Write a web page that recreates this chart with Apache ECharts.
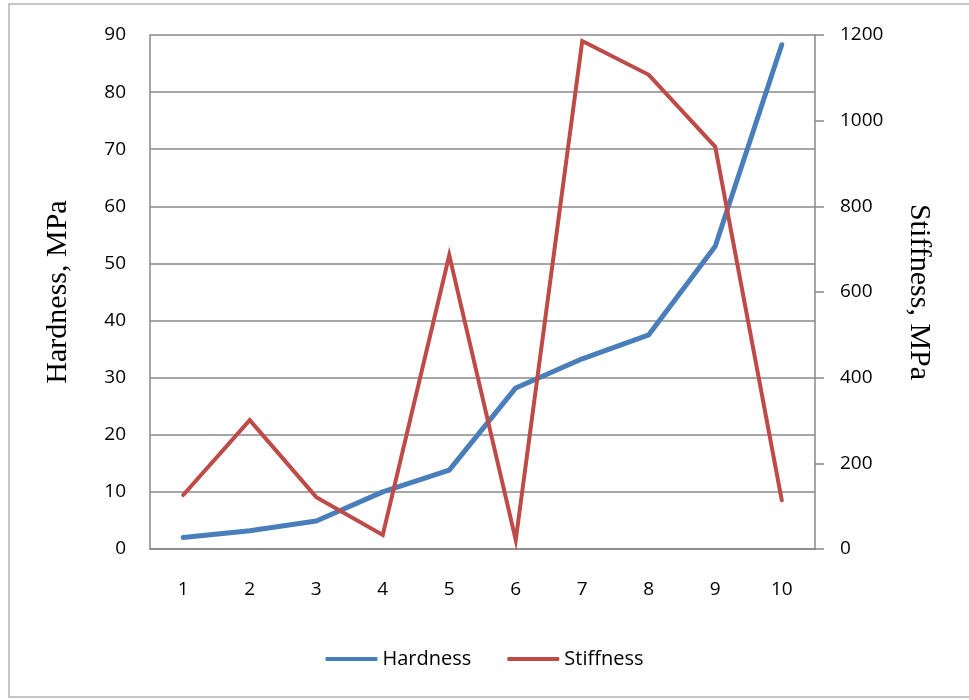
<!DOCTYPE html>
<html>
<head>
<meta charset="utf-8">
<script src="https://cdn.jsdelivr.net/npm/echarts@6/dist/echarts.min.js"></script>
<style>
  html, body { margin: 0; padding: 0; background: #fff; }
  #chart { width: 969px; height: 700px; }
</style>
</head>
<body>
<div id="chart"></div>
<script>
// samples 1..10
const categories = ['1', '2', '3', '4', '5', '6', '7', '8', '9', '10'];
const hardness = [2, 3.2, 4.9, 10, 13.8, 28.2, 33.3, 37.5, 53, 88.3];
const stiffness = [126, 301, 121, 33, 686, 21, 1186, 1107, 939, 114];

const GRID_COLOR = '#888888';
const LABEL_FONT = '"Open Sans", "Liberation Sans", sans-serif';
const NAME_FONT = '"Liberation Serif", "DejaVu Serif", serif';

const option = {
    animation: false,
    color: ['#4A7EBB', '#BE4B48'],
    graphic: [
        {
            type: 'rect',
            shape: {x: 9, y: 4, width: 990, height: 693},
            style: {fill: 'none', stroke: '#b4b4b4', lineWidth: 1.5},
            silent: true,
        }
    ],
    legend: {
        bottom: 26,
        left: 'center',
        itemWidth: 52,
        itemHeight: 4,
        itemGap: 36,
        icon: 'roundRect',
        textStyle: {
            color: '#000',
            fontSize: 20,
            fontFamily: LABEL_FONT,
        },
        data: ['Hardness', 'Stiffness'],
    },
    grid: {
        left: 150,
        right: 154,
        top: 35,
        bottom: 151,
        containLabel: false,
    },
    xAxis: {
        type: 'category',
        data: categories,
        boundaryGap: true,
        axisLine: {show: true, lineStyle: {color: GRID_COLOR, width: 1.5}},
        axisTick: {show: false},
        axisLabel: {
            color: '#000',
            fontSize: 19,
            fontFamily: LABEL_FONT,
            margin: 31,
        },
    },
    yAxis: [
        {
            type: 'value',
            min: 0,
            max: 90,
            interval: 10,
            name: 'Hardness, MPa',
            nameLocation: 'middle',
            nameRotate: 90,
            nameGap: 77,
            nameTextStyle: {color: '#000', fontSize: 30, fontFamily: NAME_FONT},
            axisLine: {show: true, lineStyle: {color: GRID_COLOR, width: 1.5}},
            axisTick: {show: false},
            splitLine: {show: true, lineStyle: {color: GRID_COLOR, width: 1.5}},
            axisLabel: {
                color: '#000',
                fontSize: 19,
                fontFamily: LABEL_FONT,
                margin: 24,
            },
        },
        {
            type: 'value',
            min: 0,
            max: 1200,
            interval: 200,
            position: 'right',
            name: 'Stiffness, MPa',
            nameLocation: 'middle',
            nameRotate: -90,
            nameGap: 89,
            nameTextStyle: {color: '#000', fontSize: 30, fontFamily: NAME_FONT},
            axisLine: {show: true, lineStyle: {color: GRID_COLOR, width: 1.5}},
            axisTick: {show: true, inside: false, length: 9, lineStyle: {color: GRID_COLOR, width: 1.5}},
            splitLine: {show: false},
            axisLabel: {
                color: '#000',
                fontSize: 19,
                fontFamily: LABEL_FONT,
                margin: 25,
                formatter: (v) => String(v),
            },
        }
    ],
    series: [
        {
            name: 'Hardness',
            type: 'line',
            yAxisIndex: 0,
            data: hardness,
            symbol: 'none',
            lineStyle: {width: 5, cap: 'round', join: 'round'},
        },
        {
            name: 'Stiffness',
            type: 'line',
            yAxisIndex: 1,
            data: stiffness,
            symbol: 'none',
            lineStyle: {width: 4, cap: 'round', join: 'miter'},
        }
    ]
};

const chart = echarts.init(document.getElementById('chart'));
chart.setOption(option);
</script>
</body>
</html>
